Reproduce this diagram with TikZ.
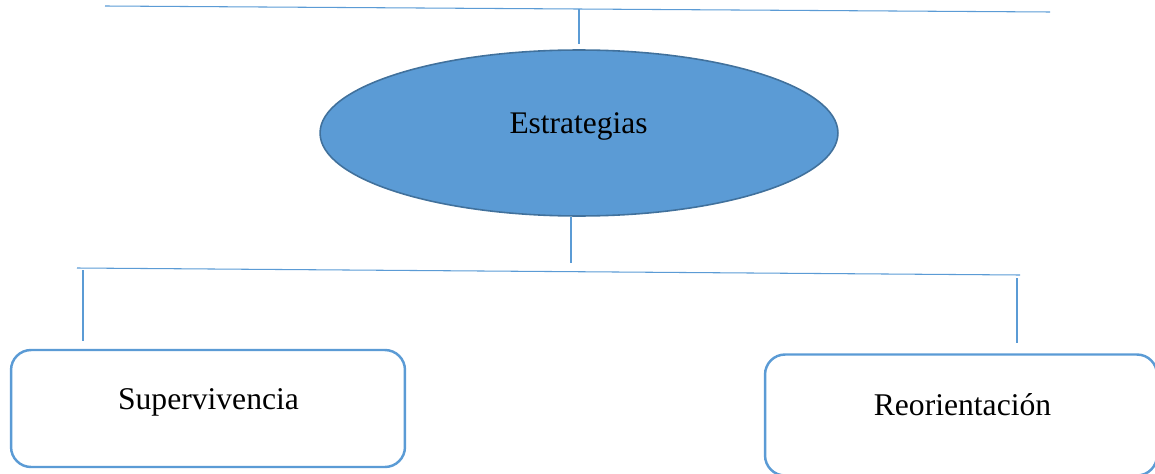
\documentclass[tikz,border=0pt]{standalone}
\usepackage{fontspec}
\setmainfont{Liberation Serif}
\usetikzlibrary{shapes.geometric}
\definecolor{accent}{HTML}{5B9BD5}
\definecolor{accentdark}{HTML}{41719C}
\begin{document}
\begin{tikzpicture}[x=0.02cm,y=-0.02cm,
  link/.style={draw=accent,line width=0.6pt},
  hub/.style={ellipse,draw=accentdark,fill=accent,line width=0.9pt,
    minimum width=10.36cm,minimum height=3.32cm},
  leaf/.style={draw=accent,line width=1.4pt,rounded corners=0.4cm},
  hubtext/.style={font=\fontsize{17.9}{21}\selectfont},
  leaftext/.style={font=\fontsize{18}{22}\selectfont}]
  \useasboundingbox (0,0) rectangle (1155,473);
  \clip (0,0) rectangle (1155,473);
  % top bar
  \coordinate (topL) at (105,6);
  \coordinate (topR) at (1050,12);
  \coordinate (topdrop) at (579,9);
  \coordinate (topend) at (579,44);
  \draw[link] (topL) -- (topR);
  \draw[link] (topdrop) -- (topend);
  % central ellipse
  \node[hub] (est) at (579,133) {};
  \node[hubtext] (esttext) at (578.5,126) {Estrategias};
  % split bar
  \coordinate (split) at (571,263);
  \coordinate (midL) at (77,268);
  \coordinate (midR) at (1020,275);
  \coordinate (leftdrop) at (83,270);
  \coordinate (leftend) at (83,341);
  \coordinate (rightdrop) at (1017,278);
  \coordinate (rightend) at (1017,343);
  \draw[link] (est.south -| split) -- (split);
  \draw[link] (midL) -- (midR);
  \draw[link] (leftdrop) -- (leftend);
  \draw[link] (rightdrop) -- (rightend);
  % leaves
  \node[leaf,minimum width=7.88cm,minimum height=2.34cm] (sup) at (208,408.5) {};
  \node[leaftext] (suptext) at (208.5,402) {Supervivencia};
  \node[leaf,minimum width=7.84cm,minimum height=2.42cm] (reo) at (961,415) {};
  \node[leaftext] (reotext) at (962.5,405) {Reorientación};
\end{tikzpicture}
\end{document}
